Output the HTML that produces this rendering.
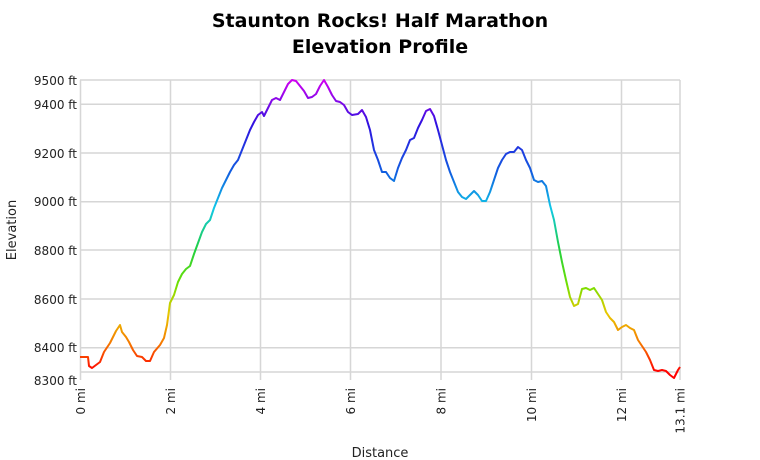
<!DOCTYPE html>
<html><head><meta charset="utf-8"><style>
html,body{margin:0;padding:0;background:#fff;}
svg{display:block;font-family:"DejaVu Sans","Liberation Sans",sans-serif;}
</style></head><body>
<svg width="760" height="460" viewBox="0 0 760 460" xmlns="http://www.w3.org/2000/svg">
<defs>
<linearGradient id="g" gradientUnits="userSpaceOnUse" x1="0" y1="372" x2="0" y2="80">
<stop offset="0" stop-color="#ff0000"/>
<stop offset="0.1" stop-color="#f57a00"/>
<stop offset="0.2" stop-color="#e8c800"/>
<stop offset="0.3" stop-color="#70e000"/>
<stop offset="0.42" stop-color="#20d040"/>
<stop offset="0.56" stop-color="#10c8e8"/>
<stop offset="0.68" stop-color="#1060e0"/>
<stop offset="0.85" stop-color="#3010e0"/>
<stop offset="1" stop-color="#d000f0"/>
</linearGradient>
</defs>
<text x="380" y="27" text-anchor="middle" font-size="19" font-weight="bold" fill="#000">Staunton Rocks! Half Marathon</text>
<text x="380" y="53" text-anchor="middle" font-size="19" font-weight="bold" fill="#000">Elevation Profile</text>
<g stroke="#d6d6d6" stroke-width="1.5">
<line x1="80" y1="80" x2="680" y2="80"/>
<line x1="80" y1="104.3" x2="680" y2="104.3"/>
<line x1="80" y1="153" x2="680" y2="153"/>
<line x1="80" y1="201.7" x2="680" y2="201.7"/>
<line x1="80" y1="250" x2="680" y2="250"/>
<line x1="80" y1="299" x2="680" y2="299"/>
<line x1="80" y1="347.7" x2="680" y2="347.7"/>
<line x1="80" y1="372" x2="680" y2="372"/>
<line x1="80.5" y1="80" x2="80.5" y2="380"/>
<line x1="170.5" y1="80" x2="170.5" y2="380"/>
<line x1="260.5" y1="80" x2="260.5" y2="380"/>
<line x1="350.5" y1="80" x2="350.5" y2="380"/>
<line x1="441" y1="80" x2="441" y2="380"/>
<line x1="531.5" y1="80" x2="531.5" y2="380"/>
<line x1="621.5" y1="80" x2="621.5" y2="380"/>
<line x1="680" y1="80" x2="680" y2="380"/>
</g>
<g font-size="12" fill="#222" text-anchor="end">
<text x="77" y="85">9500 ft</text>
<text x="77" y="109">9400 ft</text>
<text x="77" y="158">9200 ft</text>
<text x="77" y="206">9000 ft</text>
<text x="77" y="255">8800 ft</text>
<text x="77" y="304">8600 ft</text>
<text x="77" y="352">8400 ft</text>
<text x="77" y="385">8300 ft</text>
</g>
<g font-size="12" fill="#222" text-anchor="end">
<text transform="translate(85,388) rotate(-90)">0 mi</text>
<text transform="translate(175,388) rotate(-90)">2 mi</text>
<text transform="translate(265,388) rotate(-90)">4 mi</text>
<text transform="translate(355,388) rotate(-90)">6 mi</text>
<text transform="translate(445.5,388) rotate(-90)">8 mi</text>
<text transform="translate(536,388) rotate(-90)">10 mi</text>
<text transform="translate(626,388) rotate(-90)">12 mi</text>
<text transform="translate(684.5,388) rotate(-90)">13.1 mi</text>
</g>
<text transform="translate(16,230) rotate(-90)" text-anchor="middle" font-size="13" fill="#222">Elevation</text>
<text x="380" y="457" text-anchor="middle" font-size="13" fill="#222">Distance</text>
<polyline fill="none" stroke="url(#g)" stroke-width="2" stroke-linejoin="round" points="80,357 88,357 89,366 92,368 96,365 100,362 104,352 110,343 114,335 116,331 118,328 120,325 122,332 126,337 129,342 133,350 137,356 142,357 146,361 150,361 154,352 160,345 164,338 167,325 170,303 174,295 178,282 182,274 186,269 190,266 194,254 198,243 202,232 206,224 210,220 214,208 218,198 222,188 226,180 230,172 234,165 238,160 242,150 246,140 250,130 254,122 258,115 262,112 264,116 268,108 272,100 276,98 280,100 284,92 288,84 292,80 296,81 300,86 304,91 308,98 312,97 316,94 320,86 324,80 328,87 332,95 336,101 340,102 344,105 348,112 352,115 358,114 362,110 366,117 370,130 374,150 378,160 382,172 386,172 390,178 394,181 398,168 402,158 406,150 410,140 414,138 418,128 422,120 426,111 430,109 434,116 438,130 442,145 446,160 450,172 454,182 458,192 462,197 466,199 470,195 474,191 478,195 482,201 486,201 490,192 494,180 498,168 502,160 506,154 510,152 514,152 518,147 522,150 526,160 530,168 534,180 538,182 542,181 546,186 550,205 554,220 558,242 562,262 566,280 570,297 574,306 578,304 582,289 586,288 590,290 594,288 598,294 602,300 606,312 610,318 614,322 618,330 622,327 626,325 630,328 634,330 638,340 642,346 646,352 650,360 654,370 658,371 662,370 666,371 670,375 674,378 678,370 680,367"/>
</svg>
</body></html>
